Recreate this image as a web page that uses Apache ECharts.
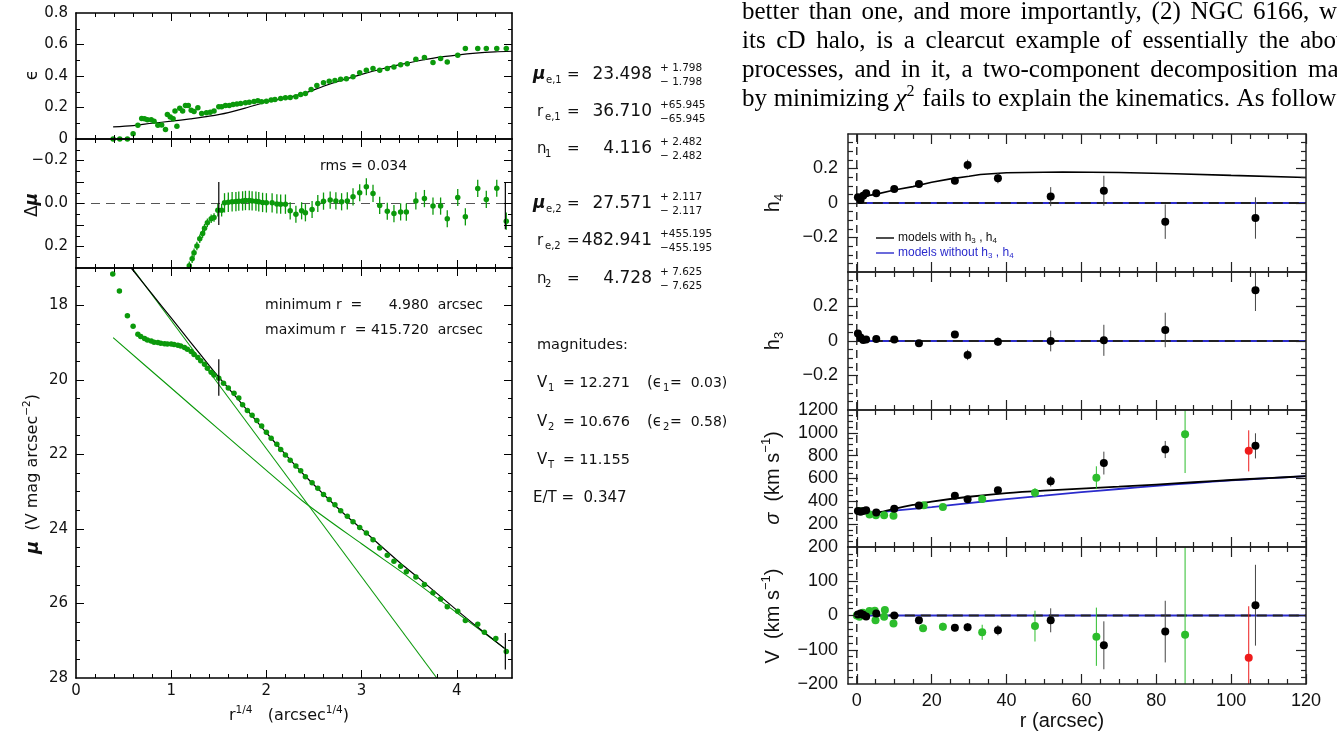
<!DOCTYPE html>
<html><head><meta charset="utf-8">
<script src="https://cdn.jsdelivr.net/npm/echarts@6/dist/echarts.min.js"></script>
<style>html,body{margin:0;padding:0;background:#fff}#c{width:1337px;height:736px}</style>
</head><body><div id="c"></div>
<script>
// ---------------- LEFT: photometry (x = r^1/4) ----------------
const epsPts = [[0.39,0],[0.46,0],[0.54,0],[0.60,0.034],[0.65,0.087],[0.69,0.13],[0.72,0.128],[0.75,0.123],[0.79,0.123],[0.82,0.113],[0.86,0.087],[0.90,0.089],[0.94,0.06],[0.96,0.155],[0.99,0.14],[1.02,0.128],[1.04,0.177],[1.06,0.081],[1.09,0.196],[1.12,0.177],[1.15,0.213],[1.18,0.213],[1.21,0.183],[1.24,0.174],[1.28,0.198],[1.32,0.162],[1.37,0.166],[1.41,0.17],[1.45,0.177],[1.50,0.204],[1.53,0.204],[1.57,0.213],[1.61,0.213],[1.65,0.219],[1.69,0.223],[1.73,0.226],[1.78,0.23],[1.82,0.234],[1.87,0.238],[1.91,0.243],[1.95,0.236],[2.0,0.24],[2.05,0.247],[2.09,0.251],[2.15,0.257],[2.2,0.262],[2.25,0.264],[2.31,0.268],[2.36,0.283],[2.41,0.289],[2.47,0.315],[2.53,0.34],[2.60,0.357],[2.66,0.366],[2.72,0.372],[2.78,0.379],[2.84,0.383],[2.91,0.396],[2.98,0.421],[3.05,0.436],[3.12,0.447],[3.19,0.436],[3.27,0.447],[3.34,0.457],[3.41,0.472],[3.48,0.477],[3.57,0.506],[3.66,0.517],[3.75,0.485],[3.83,0.511],[3.90,0.489],[4.01,0.532],[4.09,0.574],[4.22,0.574],[4.31,0.574],[4.42,0.574],[4.52,0.574]];
const epsFit = [[0.39,0.077],[0.6,0.085],[0.8,0.1],[1.0,0.113],[1.2,0.128],[1.4,0.145],[1.6,0.168],[1.8,0.2],[2.0,0.235],[2.2,0.26],[2.4,0.29],[2.6,0.335],[2.8,0.375],[3.0,0.41],[3.2,0.443],[3.4,0.472],[3.6,0.497],[3.8,0.518],[4.0,0.533],[4.2,0.545],[4.4,0.553],[4.58,0.557]];
// [x, delta mu, error]
const dmuPts = [[1.19,0.29,0.02],[1.22,0.257,0.02],[1.24,0.229,0.02],[1.27,0.198,0.02],[1.30,0.164,0.02],[1.33,0.14,0.02],[1.35,0.115,0.02],[1.38,0.09,0.02],[1.42,0.071,0.02],[1.45,0.065,0.02],[1.49,0.031,0.03],[1.53,0.031,0.03],[1.56,-0.003,0.045],[1.60,-0.006,0.045],[1.64,-0.008,0.045],[1.68,-0.009,0.045],[1.71,-0.011,0.045],[1.75,-0.012,0.045],[1.78,-0.014,0.045],[1.82,-0.014,0.045],[1.85,-0.012,0.045],[1.89,-0.011,0.045],[1.92,-0.008,0.045],[1.96,-0.005,0.045],[2.0,-0.003,0.045],[2.06,-0.003,0.045],[2.11,0.002,0.045],[2.15,0.003,0.045],[2.2,0.003,0.045],[2.25,0.034,0.04],[2.31,0.05,0.04],[2.37,0.034,0.04],[2.41,0.043,0.04],[2.48,0.028,0.04],[2.54,0,0.04],[2.60,-0.011,0.04],[2.67,-0.016,0.04],[2.73,-0.012,0.04],[2.79,-0.008,0.04],[2.85,-0.012,0.04],[2.91,-0.031,0.04],[2.98,-0.05,0.04],[3.05,-0.078,0.04],[3.12,-0.047,0.04],[3.19,0.009,0.04],[3.27,0.036,0.04],[3.34,0.047,0.04],[3.41,0.039,0.04],[3.47,0.04,0.04],[3.57,-0.012,0.04],[3.66,-0.023,0.04],[3.75,0.012,0.04],[3.83,0.012,0.04],[3.90,0.071,0.04],[4.01,-0.028,0.04],[4.09,0.062,0.04],[4.22,-0.07,0.04],[4.31,-0.019,0.04],[4.42,-0.071,0.04],[4.52,0.082,0.04]];
const dmuZero = [[0,0],[4.58,0]];
const dmuBars = [[1.5,-0.1,0.1],[4.51,-0.1,0.12]];
const muPts = [[0.386,17.16],[0.456,17.62],[0.54,18.28],[0.60,18.56],[0.65,18.78],[0.68,18.84],[0.72,18.89],[0.75,18.93],[0.79,18.96],[0.82,18.99],[0.86,19.0],[0.89,19.02],[0.93,19.03],[0.96,19.04],[1.0,19.04],[1.03,19.05],[1.07,19.07],[1.10,19.09],[1.14,19.13],[1.17,19.18],[1.21,19.24],[1.24,19.32],[1.28,19.4],[1.31,19.49],[1.35,19.58],[1.38,19.69],[1.42,19.8],[1.45,19.87],[1.50,19.96],[1.55,20.09],[1.60,20.22],[1.66,20.36],[1.71,20.49],[1.75,20.67],[1.80,20.82],[1.85,20.95],[1.90,21.09],[1.95,21.24],[2.0,21.41],[2.05,21.57],[2.11,21.73],[2.15,21.87],[2.2,22.02],[2.25,22.16],[2.31,22.31],[2.36,22.44],[2.41,22.6],[2.48,22.76],[2.54,22.91],[2.60,23.08],[2.66,23.21],[2.72,23.35],[2.78,23.51],[2.85,23.66],[2.91,23.81],[2.98,23.96],[3.05,24.11],[3.12,24.29],[3.19,24.51],[3.27,24.71],[3.34,24.87],[3.41,25.0],[3.47,25.15],[3.57,25.29],[3.66,25.49],[3.75,25.71],[3.83,25.88],[3.90,26.09],[4.01,26.21],[4.09,26.46],[4.22,26.56],[4.29,26.77],[4.41,26.94],[4.52,27.29]];
const muFit = [[0.58,17.0],[0.8,17.7],[1.0,18.34],[1.2,18.98],[1.4,19.62],[1.5,19.93],[1.6,20.22],[1.8,20.82],[2.0,21.42],[2.2,22.0],[2.4,22.56],[2.6,23.07],[2.8,23.56],[3.0,24.0],[3.2,24.45],[3.4,24.9],[3.6,25.32],[3.8,25.75],[4.0,26.18],[4.2,26.6],[4.4,27.0],[4.5,27.2]];
const muComp1 = [[0.59,17.0],[3.79,28.0]];
const muComp2 = [[0.39,18.87],[1.0,20.22],[1.5,21.33],[2.0,22.43],[2.38,23.25],[3.0,24.4],[3.5,25.3],[4.0,26.25],[4.51,27.22]];
const muBars = [[1.5,19.45,20.43],[4.51,26.79,27.77]];

// ---------------- RIGHT: kinematics (x = r arcsec) ----------------
const rBlack   = [0.3,1.0,1.7,2.5,5.2,10.0,16.6,26.2,29.6,37.7,51.8,66.0,82.4,106.5];
const h4Black  = [0.033,0.017,0.042,0.056,0.056,0.081,0.11,0.129,0.221,0.144,0.037,0.071,-0.108,-0.087];
const h4Err    = [0.01,0.01,0.01,0.01,0.01,0.012,0.015,0.02,0.03,0.03,0.055,0.087,0.1,0.12];
const h4Fit    = [[0.4,0.03],[2,0.04],[5,0.05],[10,0.075],[15,0.095],[20,0.12],[25,0.14],[30,0.155],[33,0.165],[40,0.175],[55,0.18],[70,0.177],[85,0.17],[100,0.16],[120,0.148]];
const h3Black  = [0.043,0.021,0.006,0.008,0.011,0.008,-0.013,0.038,-0.081,-0.004,0,0.004,0.064,0.294];
const h3Err    = [0.01,0.01,0.01,0.01,0.01,0.012,0.015,0.02,0.03,0.025,0.06,0.09,0.1,0.12];
const sigBlack = [316,308,316,322,302,334,363,450,418,497,575,735,854,886];
const sigBlackErr = [10,10,10,10,10,15,15,20,20,25,45,100,75,110];
const rGreenSig = [0.6,3.4,5.1,7.3,9.8,17.9,23.0,33.5,47.6,64.0,87.7];
const sigGreen  = [316,284,278,278,273,366,351,421,476,607,988];
const sigGreenErr = [10,10,10,10,10,15,15,20,40,100,340];
const rRed = [104.7];
const sigRed = [842];
const sigRedErr = [180];
const sigFitWith    = [[0,312],[3,300],[6,304],[10,334],[15,368],[20,398],[30,440],[40,472],[50,494],[60,511],[70,528],[80,547],[90,567],[100,587],[110,604],[120,620]];
const sigFitWithout = [[0,300],[5,302],[10,318],[20,350],[30,385],[40,420],[50,450],[60,480],[70,508],[80,535],[90,560],[100,583],[110,603],[120,620]];
const vBlack   = [3,6,2,-3,6,0,-14,-36,-34,-43,-14,-87,-47,30];
const vBlackErr = [5,5,5,5,5,5,8,10,12,15,35,70,90,118];
const rGreenV  = [0,0.7,1.6,3.4,4.8,5.0,7.3,7.5,9.8,17.7,23.0,33.5,47.6,64.0,87.7];
const vGreen   = [0,-4,8,13,14,-14,-4,16,-23,-37,-33,-49,-31,-62,-56];
const vGreenErr = [5,5,5,5,5,5,5,5,8,10,12,22,45,85,300];
const vRed = [-123];
const vRedErr = [150];
const zeroLine = [[0,0],[120,0]];

// ---------------- styles / layout ----------------
const FL = 'DejaVu Sans', FR = 'Liberation Sans', FS = 'Liberation Serif';
const GL = '#0b990b', GR = '#2cbd2c', RED = '#ee1b1b', BLUE = '#2b2bcc';
const minus = v => String(v).replace('-', '\u2212');
function rng(a, b, s, skip) { const out = []; for (let v = a; v <= b + 1e-9; v += s) { const r = Math.round(v * 1e6) / 1e6; if (!skip || !skip.some(k => Math.abs(k - r) < 1e-9)) out.push(r); } return out; }

const grid = [
  {left:76, top:13, width:436, height:126},
  {left:76, top:139, width:436, height:129},
  {left:76, top:268, width:436, height:410},
  {left:848, top:134, width:458, height:138},
  {left:848, top:272, width:458, height:138},
  {left:848, top:410, width:458, height:137},
  {left:848, top:547, width:458, height:137}
];
const xAxis = [], yAxis = [];
function mk(list, g, pos, c, major, labels) {
  const o = {type:'value', gridIndex:g, position:pos, min:c.min, max:c.max, inverse:!!c.inverse, splitLine:{show:false}, silent:true, z:6};
  if (major) {
    o.axisLine = {show:true, onZero:false, lineStyle:{color:c.color, width:c.lw}};
    o.axisTick = {show:true, inside:true, length:c.majLen, customValues:c.majors, lineStyle:{color:c.color, width:c.tw}};
    o.axisLabel = labels ? {show:true, customValues:c.labels, formatter:c.fmt, margin:c.margin, color:'#111', fontFamily:c.font, fontSize:c.fs, hideOverlap:false} : {show:false};
  } else {
    o.axisLine = {show:false, onZero:false};
    o.axisTick = {show:true, inside:true, length:c.minLen, customValues:c.minors, lineStyle:{color:c.color, width:c.tw}};
    o.axisLabel = {show:false};
  }
  list.push(o);
}
function frame(g, xc, yc, xLab) {
  mk(xAxis, g, 'bottom', xc, true, xLab); mk(xAxis, g, 'bottom', xc, false);
  mk(xAxis, g, 'top', xc, true, false); mk(xAxis, g, 'top', xc, false);
  mk(yAxis, g, 'left', yc, true, true); mk(yAxis, g, 'left', yc, false);
  mk(yAxis, g, 'right', yc, true, false); mk(yAxis, g, 'right', yc, false);
}
const LB = {color:'#000', lw:1.6, tw:1, majLen:8, minLen:4, font:FL, fs:15, margin:8};
const RB = {color:'#222', lw:1.5, tw:1.2, majLen:10, minLen:5, font:FR, fs:18, margin:10};
const xL = Object.assign({}, LB, {min:0, max:4.58, majors:[1,2,3,4], minors:rng(0.2,4.4,0.2,[1,2,3,4]), labels:[0,1,2,3,4], fmt:v=>String(v), margin:6});
const xR = Object.assign({}, RB, {min:-2.35, max:120, majors:rng(0,120,20), minors:rng(5,115,5,rng(0,120,20)), labels:rng(0,120,20), fmt:v=>String(v), margin:8});
frame(0, xL, Object.assign({}, LB, {min:0, max:0.8, majors:[0.2,0.4,0.6], minors:[0.1,0.3,0.5,0.7], labels:[0,0.2,0.4,0.6,0.8], fmt:v=>v===0?'0':v.toFixed(1)}), false);
frame(1, xL, Object.assign({}, LB, {min:-0.3, max:0.3, inverse:true, majors:[-0.2,-0.1,0,0.1,0.2], minors:[-0.25,-0.15,-0.05,0.05,0.15,0.25], labels:[-0.2,0,0.2], fmt:v=>minus(v.toFixed(1))}), false);
frame(2, xL, Object.assign({}, LB, {min:17, max:28, inverse:true, majors:[18,20,22,24,26], minors:rng(17.5,27.5,0.5,[18,20,22,24,26]), labels:[18,20,22,24,26,28], fmt:v=>String(v)}), true);
const hY = Object.assign({}, RB, {min:-0.4, max:0.4, majors:[-0.2,0,0.2], minors:rng(-0.35,0.35,0.05,[-0.2,0,0.2]), labels:[-0.2,0,0.2], fmt:v=>v===0?'0':minus(v.toFixed(1))});
frame(3, xR, hY, false);
frame(4, xR, hY, false);
frame(5, xR, Object.assign({}, RB, {min:0, max:1200, majors:rng(200,1000,200), minors:rng(50,1150,50,rng(0,1200,200)), labels:rng(200,1200,200), fmt:v=>String(v)}), false);
frame(6, xR, Object.assign({}, RB, {min:-200, max:200, majors:[-100,0,100], minors:rng(-180,180,20,[-100,0,100]), labels:[-200,-100,0,100,200], fmt:v=>minus(v)}), true);

// ---------------- series helpers ----------------
function line(g, data, color, width, type, smooth, z) {
  return {type:'line', xAxisIndex:4*g, yAxisIndex:4*g, data, symbol:'none', showSymbol:false, smooth:smooth||false,
    lineStyle:{color, width, type:type||'solid'}, silent:true, clip:true, z:z||2};
}
function scat(g, data, color, size, z) {
  return {type:'scatter', xAxisIndex:4*g, yAxisIndex:4*g, data, symbol:'circle', symbolSize:size, itemStyle:{color, opacity:1}, silent:true, clip:false, z:z||4};
}
function errs(g, data, color, width, z) {
  return {type:'custom', xAxisIndex:4*g, yAxisIndex:4*g, data, clip:true, silent:true, z:z||3, encode:{x:0, y:[1,2]},
    renderItem:(p, api) => { const a = api.coord([api.value(0), api.value(1)]), b = api.coord([api.value(0), api.value(2)]);
      return {type:'line', shape:{x1:a[0], y1:a[1], x2:b[0], y2:b[1]}, style:{stroke:color, lineWidth:width}}; }};
}
const pairs = (xs, ys) => xs.map((x, i) => [x, ys[i]]);
const bars = (xs, ys, es) => xs.map((x, i) => [x, ys[i] - es[i], ys[i] + es[i]]);

const series = [
  line(0, epsFit, '#000', 1.2, 'solid', 0.3, 3),
  scat(0, epsPts, GL, 5.5),
  line(1, dmuZero, '#555', 1.2, [9,6]),
  errs(1, dmuPts.map(p => [p[0], p[1]-p[2], p[1]+p[2]]), GL, 1.3),
  scat(1, dmuPts.map(p => [p[0], p[1]]), GL, 5.5),
  errs(1, dmuBars, '#000', 1.2, 5),
  line(2, muComp1, GL, 1.1),
  line(2, muComp2, GL, 1.1, 'solid', 0.3),
  line(2, muFit, '#000', 1.2, 'solid', 0.3, 3),
  scat(2, muPts, GL, 5.5),
  errs(2, muBars, '#000', 1.2, 5)
];
[[3,-0.4,0.4],[4,-0.4,0.4],[5,0,1200],[6,-200,200]].forEach(([g,a,b]) => series.push(line(g, [[0,a],[0,b]], '#111', 1.3, [8,5])));
[3,4,6].forEach(g => { series.push(line(g, zeroLine, BLUE, 1.8)); series.push(line(g, zeroLine, '#222', 1.8, [10,6])); });
series.push(
  line(3, h4Fit, '#000', 1.6),
  errs(3, bars(rBlack, h4Black, h4Err), '#444', 1),
  scat(3, pairs(rBlack, h4Black), '#000', 8),
  errs(4, bars(rBlack, h3Black, h3Err), '#444', 1),
  scat(4, pairs(rBlack, h3Black), '#000', 8),
  line(5, sigFitWithout, BLUE, 1.8, 'solid', 0.3),
  line(5, sigFitWith, '#000', 1.8, 'solid', 0.3),
  errs(5, bars(rGreenSig, sigGreen, sigGreenErr), GR, 1),
  scat(5, pairs(rGreenSig, sigGreen), GR, 8),
  errs(5, bars(rBlack, sigBlack, sigBlackErr), '#444', 1),
  scat(5, pairs(rBlack, sigBlack), '#000', 8),
  errs(5, bars(rRed, sigRed, sigRedErr), RED, 1),
  scat(5, pairs(rRed, sigRed), RED, 8),
  errs(6, bars(rGreenV, vGreen, vGreenErr), GR, 1),
  scat(6, pairs(rGreenV, vGreen), GR, 8),
  errs(6, bars(rBlack, vBlack, vBlackErr), '#444', 1),
  scat(6, pairs(rBlack, vBlack), '#000', 8),
  errs(6, bars(rRed, vRed, vRedErr), RED, 1),
  scat(6, pairs(rRed, vRed), RED, 8)
);

// ---------------- text (graphic) ----------------
const G = [];
function T(x, y, text, o) {
  o = o || {};
  G.push({type:'text', x, y, rotation:o.rot||0, silent:true, z:100,
    style:{text, fill:o.color||'#111', fontSize:o.fs||14, fontFamily:o.ff||FL, fontWeight:o.fw||'normal', fontStyle:o.it?'italic':'normal',
      align:o.align||'left', verticalAlign:o.va||'middle', rich:o.rich}});
}
function L(x1, y1, x2, y2, color, w) { G.push({type:'line', silent:true, z:100, shape:{x1,y1,x2,y2}, style:{stroke:color, lineWidth:w}}); }
const R90 = Math.PI / 2;

// top paragraph: fully justified lines (cut by the page edge)
const PFS = 25;
const mctx = document.createElement('canvas').getContext('2d');
function measure(t, italic, size) { mctx.font = (italic ? 'italic ' : '') + (size || PFS) + 'px "Liberation Serif"'; return mctx.measureText(t).width; }
const chiRich = {i:{fontSize:PFS, fontFamily:FS, fontStyle:'italic', fill:'#000', lineHeight:30}, s:{fontSize:16, fontFamily:FS, verticalAlign:'top', lineHeight:14, fill:'#000'}};
function justify(y, words, lastStart) {
  const w = words.map(t => t === 'CHI2' ? measure('\u03c7', true) + measure('2', false, 16) + 1 : measure(t));
  const sum = w.slice(0, -1).reduce((a, b) => a + b, 0);
  const gap = (lastStart - 742 - sum) / (words.length - 1);
  let x = 742;
  words.forEach((t, i) => {
    if (t === 'CHI2') T(x, y, '{i|\u03c7}{s|2}', {rich:chiRich});
    else T(x, y, t, {fs:PFS, ff:FS, color:'#000'});
    x += w[i] + gap;
  });
}
justify(12, ['better','than','one,','and','more','importantly,','(2)','NGC','6166,','which'], 1319);
justify(41, ['its','cD','halo,','is','a','clearcut','example','of','essentially','the','above'], 1300);
justify(70, ['processes,','and','in','it,','a','two-component','decomposition','made'], 1308);
justify(99, ['by','minimizing','CHI2','fails','to','explain','the','kinematics.','As','follows'], 1271);

// left axis names
T(33, 75, '\u03f5', {fs:17, rot:R90, align:'center'});
T(33, 205, '{a|\u0394}{m|\u03bc}', {rot:R90, align:'center', rich:{a:{fontSize:17, fontFamily:FL, fill:'#111'}, m:{fontSize:17, fontFamily:FL, fontStyle:'italic', fontWeight:'bold', fill:'#111'}}});
T(33, 474, '{m|\u03bc}{n|  (V mag arcsec}{s|\u22122}{n|)}', {rot:R90, align:'center', rich:{
  m:{fontSize:18, fontFamily:FL, fontStyle:'italic', fontWeight:'bold', fill:'#111', lineHeight:22},
  n:{fontSize:16, fontFamily:FL, fill:'#111', lineHeight:22}, s:{fontSize:10.5, fontFamily:FL, fill:'#111', verticalAlign:'top', lineHeight:10}}});
T(289, 716, '{n|r}{s|1/4}{n|   (arcsec}{s|1/4}{n|)}', {align:'center', rich:{
  n:{fontSize:16, fontFamily:FL, fill:'#111', lineHeight:22}, s:{fontSize:10.5, fontFamily:FL, fill:'#111', verticalAlign:'top', lineHeight:10}}});
T(320, 166, 'rms = 0.034', {fs:14});
T(265, 305, 'minimum r  =', {fs:14});
T(483, 305, '4.980  arcsec', {fs:14, align:'right'});
T(265, 330, 'maximum r  =', {fs:14});
T(483, 330, '415.720  arcsec', {fs:14, align:'right'});

// parameter column
function param(y, sym, symIt, sub, num, up, lo) {
  T(symIt ? 533 : 537, y, sym, {fs:symIt?17:15, it:symIt, fw:symIt?'bold':'normal'});
  T(symIt ? 546 : 545, y + 5, sub, {fs:10});
  T(567, y, '=', {fs:15});
  T(652, y, num, {fs:17, align:'right'});
  T(660, y - 7, up, {fs:10.5});
  T(660, y + 7, lo, {fs:10.5});
}
param(75, '\u03bc', true, 'e,1', '23.498', '+ 1.798', '\u2212 1.798');
param(112, 'r', false, 'e,1', '36.710', '+65.945', '\u221265.945');
param(149, 'n', false, '1', '4.116', '+ 2.482', '\u2212 2.482');
param(204, '\u03bc', true, 'e,2', '27.571', '+ 2.117', '\u2212 2.117');
param(241, 'r', false, 'e,2', '482.941', '+455.195', '\u2212455.195');
param(279, 'n', false, '2', '4.728', '+ 7.625', '\u2212 7.625');
T(537, 345, 'magnitudes:', {fs:14.5});
function mag(y, sub, val, eps, esub) {
  T(537, y, 'V', {fs:15}); T(548, y + 5, sub, {fs:10});
  T(563, y, '=', {fs:14});
  T(630, y, val, {fs:14.5, align:'right'});
  if (eps) { T(647, y, '(\u03f5', {fs:15}); T(663, y + 5, esub, {fs:10}); T(670, y, '=  ' + eps + ')', {fs:14}); }
}
mag(383, '1', '12.271', '0.03', '1');
mag(422, '2', '10.676', '0.58', '2');
mag(460, 'T', '11.155');
T(533, 498, 'E/T =  0.347', {fs:15});

// right names
const rsub = {n:{fontSize:20, fontFamily:FR, fill:'#111', lineHeight:26}, g:{fontSize:20, fontFamily:FR, fontStyle:'italic', fill:'#111', lineHeight:26},
  b:{fontSize:13, fontFamily:FR, fill:'#111', verticalAlign:'bottom', lineHeight:13}, s:{fontSize:13, fontFamily:FR, fill:'#111', verticalAlign:'top', lineHeight:13}};
T(773, 203, '{n|h}{b|4}', {rot:R90, align:'center', rich:rsub});
T(773, 341, '{n|h}{b|3}', {rot:R90, align:'center', rich:rsub});
T(773, 478, '{g|\u03c3}{n|  (km s}{s|\u22121}{n|)}', {rot:R90, align:'center', rich:rsub});
T(773, 616, '{n|V  (km s}{s|\u22121}{n|)}', {rot:R90, align:'center', rich:rsub});
T(1062, 721, 'r (arcsec)', {fs:20, ff:FR, align:'center'});
// legend
const lsub = c => ({n:{fontSize:12, fontFamily:FR, fill:c, lineHeight:14}, b:{fontSize:8, fontFamily:FR, fill:c, verticalAlign:'bottom', lineHeight:8}});
L(876, 238, 894, 238, '#000', 1.4);
T(898, 238, '{n|models with h}{b|3}{n| , h}{b|4}', {rich:lsub('#111')});
L(876, 253, 894, 253, BLUE, 1.4);
T(898, 253, '{n|models without h}{b|3}{n| , h}{b|4}', {rich:lsub(BLUE)});

const chart = echarts.init(document.getElementById('c'), null, {renderer:'canvas'});
chart.setOption({animation:false, backgroundColor:'#fff', grid, xAxis, yAxis, series, graphic:{elements:G}});
</script>
</body></html>
